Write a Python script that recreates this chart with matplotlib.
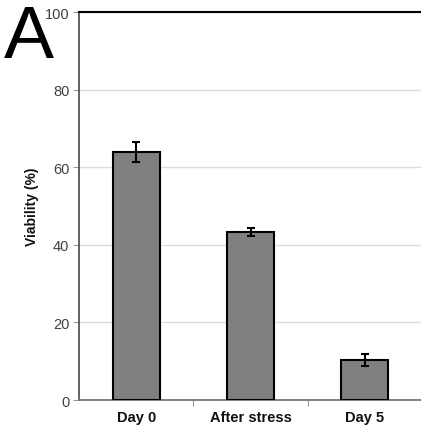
import matplotlib.pyplot as plt
import numpy as np

plt.rcParams['font.family'] = ['Liberation Sans', 'DejaVu Sans']

# データ
categories = ["Day 0", "After stress", "Day 5"]
viability = [63.9, 43.3, 10.3]
errors = [2.6, 1.0, 1.6]
yticks = [0, 20, 40, 60, 80, 100]

fig = plt.figure(figsize=(4.21, 4.35), dpi=100)
ax = fig.add_axes([0.1876, 0.078, 0.815, 0.892])

x = np.arange(len(categories))
ax.bar(x, viability, width=0.41, color="#808080", edgecolor="black", linewidth=1.5, zorder=3)
ax.errorbar(x, viability, yerr=errors, fmt="none", ecolor="black", elinewidth=1.5,
            capsize=3, capthick=1.5, zorder=4)

ax.set_xlim(-0.5, len(categories) - 0.5)
ax.set_ylim(0, 100)
ax.set_yticks(yticks)
ax.set_yticklabels([str(v) for v in yticks], fontsize=10.5, color="#404040")
ax.yaxis.grid(True, color="#dddddd", linewidth=1, zorder=0)

# カテゴリ境界に目盛り
ax.set_xticks(np.arange(len(categories) - 1) + 0.5)
ax.set_xticklabels([])
ax.set_xticks(x, minor=True)
ax.set_xticklabels(categories, minor=True, fontsize=10.5, fontweight="bold", color="#111111")
ax.tick_params(axis="x", which="minor", length=0, pad=7)
ax.tick_params(axis="x", which="major", length=4, color="#999999", direction="out")
ax.tick_params(axis="y", length=4, color="#999999", pad=3)

ax.spines["right"].set_visible(False)
ax.spines["top"].set_color("black")
ax.spines["top"].set_linewidth(1.5)
ax.spines["left"].set_color("#555555")
ax.spines["left"].set_linewidth(1.3)
ax.spines["bottom"].set_color("#777777")
ax.spines["bottom"].set_linewidth(1.3)

ax.set_ylabel("Viability (%)", fontsize=10, fontweight="bold", labelpad=4, color="#111111")

fig.text(0.01, 0.99, "A", fontsize=54, va="top", ha="left")

fig.savefig("out.png", dpi=100)
